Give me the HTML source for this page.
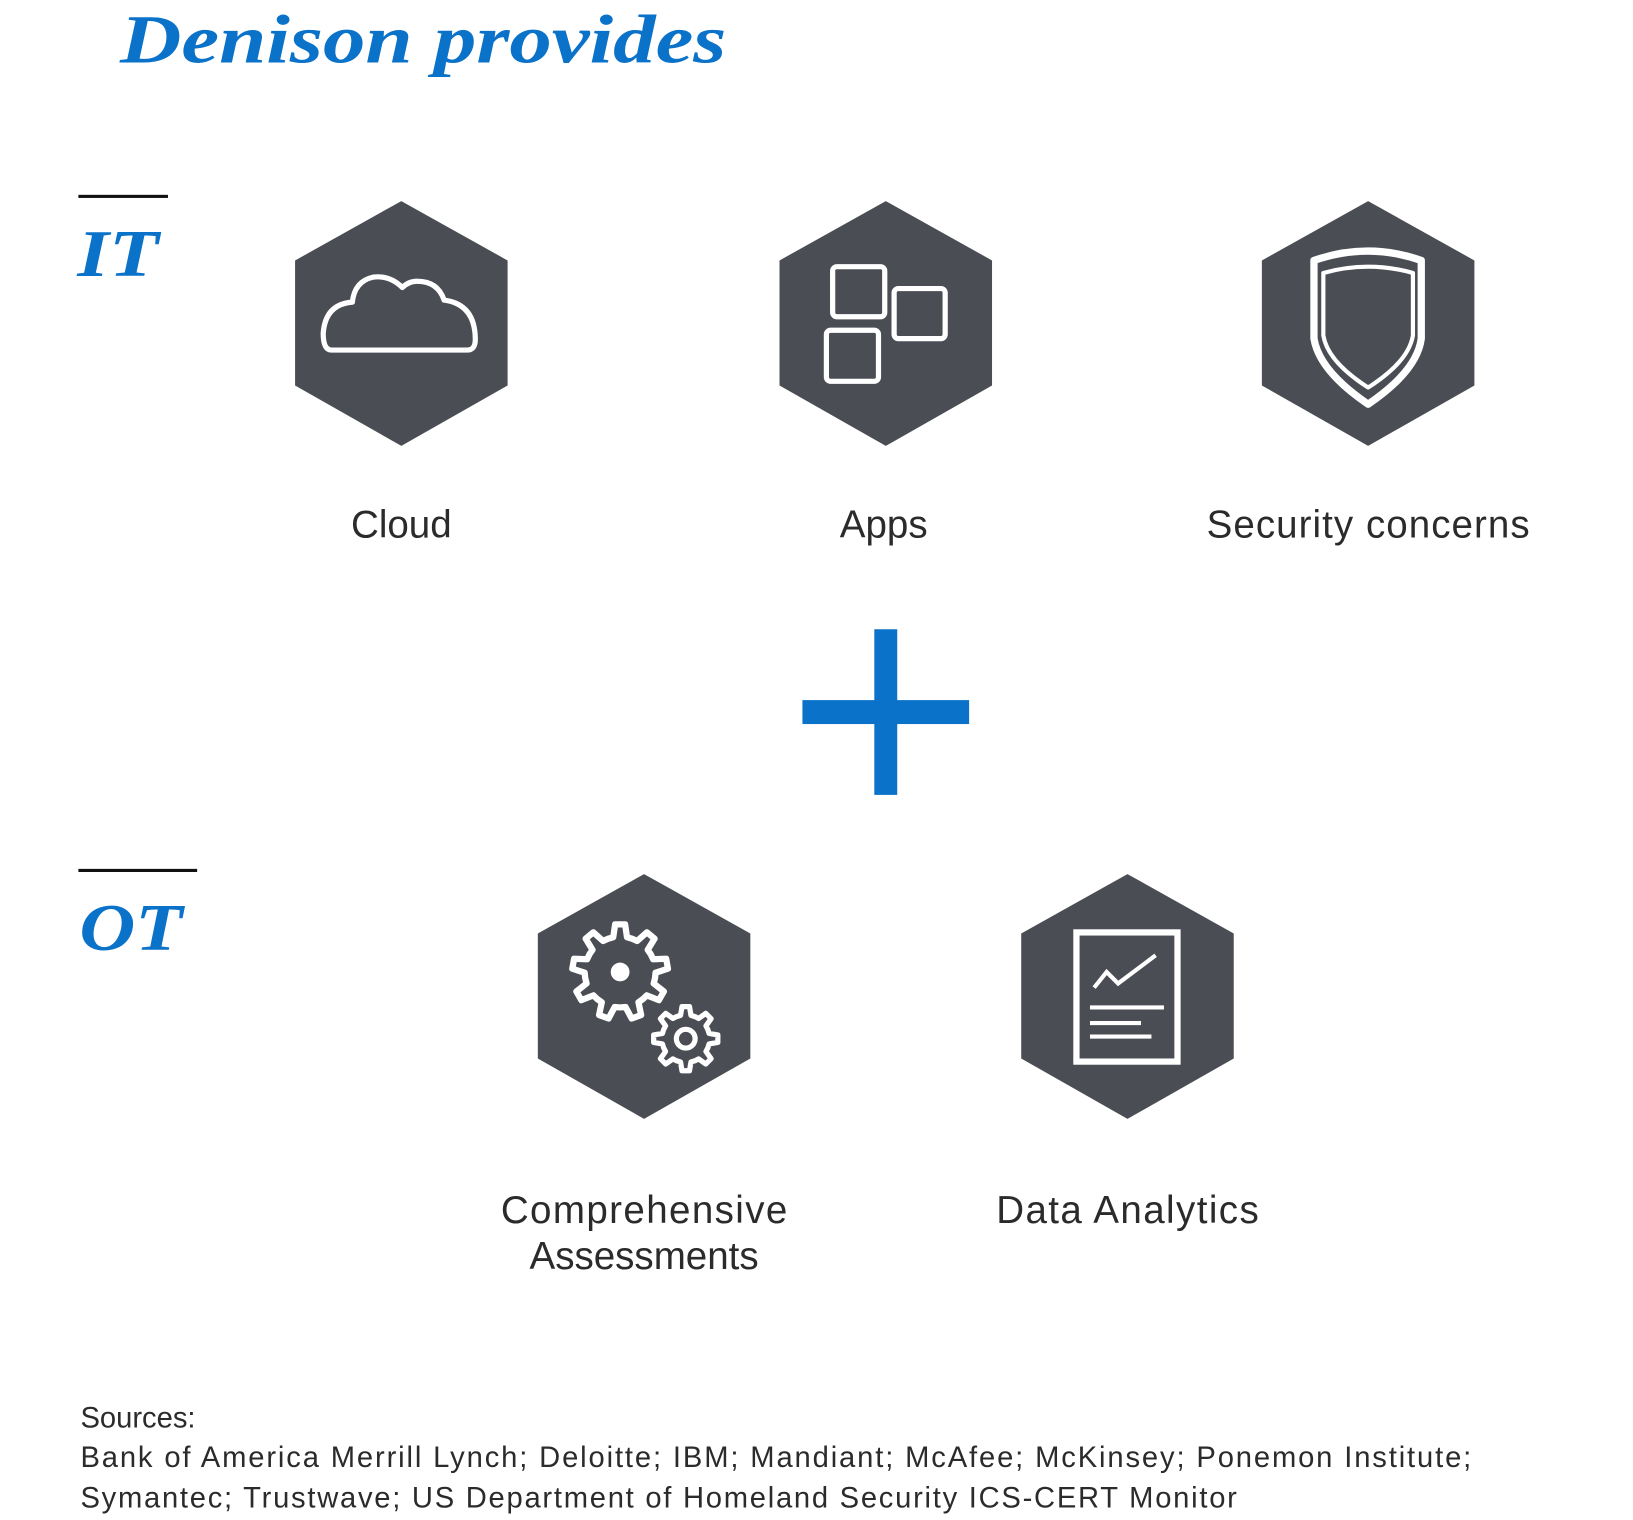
<!DOCTYPE html>
<html><head><meta charset="utf-8"><style>
html,body{margin:0;padding:0;background:#fff;}
svg{display:block}
.lbl{font-family:"Liberation Sans",sans-serif;font-size:37px;fill:#2b2b2b;text-anchor:middle}
.src{font-family:"Liberation Sans",sans-serif;font-size:28px;fill:#2b2b2b}
.hd{font-family:"Liberation Serif",serif;font-weight:bold;font-style:italic;fill:#0a72c8}
</style></head><body>
<svg width="1633" height="1520" viewBox="0 0 1567 1459" xmlns="http://www.w3.org/2000/svg">
<defs>
<polygon id="hex" points="0,0 102,57 102,177 0,235 -102,177 -102,57" fill="#4a4e54"/>
</defs>
<text class="hd" x="115" y="60" font-size="66" textLength="582" lengthAdjust="spacingAndGlyphs">Denison provides</text>
<rect x="75" y="187" width="86" height="3" fill="#111"/>
<text class="hd" x="74" y="265" font-size="64" textLength="78" lengthAdjust="spacingAndGlyphs">IT</text>
<rect x="75" y="834" width="114" height="3" fill="#111"/>
<text class="hd" x="76" y="912" font-size="64" textLength="99" lengthAdjust="spacingAndGlyphs">OT</text>

<use href="#hex" x="385" y="193"/>
<use href="#hex" x="850" y="193"/>
<use href="#hex" x="1313" y="193"/>
<use href="#hex" x="618" y="839"/>
<use href="#hex" x="1082" y="839"/>

<g fill="none" stroke="#fff" stroke-width="5" stroke-linejoin="round" stroke-linecap="round">
<path d="M318,336 L448,336 Q456,336 456,326 Q456,292 426,288 Q420,270 400,270 Q392,270 386,276 Q374,264 358,266 Q340,270 338,290 Q312,292 310,320 Q310,336 318,336 Z"/>
<rect x="799" y="256" width="50" height="48" rx="4"/>
<rect x="858" y="277" width="49" height="48" rx="4"/>
<rect x="793" y="317" width="50" height="49" rx="4"/>
</g>
<g fill="none" stroke="#fff" stroke-linejoin="round">
<path d="M1261,250 Q1313,232 1364,250 L1364,325 Q1360,356 1313,388 Q1266,356 1261,325 Z" stroke-width="7"/>
<path d="M1270,262 Q1313,250 1356,262 L1356,322 Q1352,347 1313,372 Q1274,347 1270,322 Z" stroke-width="4"/>
</g>

<path id="g1" fill="none" stroke="#fff" stroke-width="6" stroke-linejoin="round"/>
<circle cx="595" cy="933" r="9" fill="#fff"/>
<path id="g2" fill="none" stroke="#fff" stroke-width="5" stroke-linejoin="round"/>
<circle cx="658" cy="997" r="9" fill="none" stroke="#fff" stroke-width="5"/>

<g fill="none" stroke="#fff">
<rect x="1033" y="895" width="97" height="124" stroke-width="6"/>
<polyline points="1050,948 1062,933 1073,944 1109,917" stroke-width="4"/>
<line x1="1046" y1="967" x2="1117" y2="967" stroke-width="4"/>
<line x1="1046" y1="982" x2="1095" y2="982" stroke-width="4"/>
<line x1="1046" y1="995" x2="1105" y2="995" stroke-width="4"/>
</g>

<rect x="839" y="604" width="22" height="159" fill="#0a72c8"/>
<rect x="770" y="672" width="160" height="23" fill="#0a72c8"/>

<text class="lbl" x="385" y="516">Cloud</text>
<text class="lbl" x="848" y="516">Apps</text>
<text class="lbl" x="1313" y="516" textLength="310">Security concerns</text>
<text class="lbl" x="618" y="1174" textLength="275">Comprehensive</text>
<text class="lbl" x="618" y="1218">Assessments</text>
<text class="lbl" x="1082" y="1174" textLength="252">Data Analytics</text>

<text class="src" x="77" y="1370">Sources:</text>
<text class="src" x="77" y="1408" textLength="1335">Bank of America Merrill Lynch; Deloitte; IBM; Mandiant; McAfee; McKinsey; Ponemon Institute;</text>
<text class="src" x="77" y="1447" textLength="1110">Symantec; Trustwave; US Department of Homeland Security ICS-CERT Monitor</text>
</svg>
<script>
function gear(cx,cy,ro,ri,n){var d="",s=Math.PI*2/n;for(var i=0;i<n;i++){var a=i*s-Math.PI/2;var pts=[[ri,a-s*0.5],[ri,a-s*0.28],[ro,a-s*0.15],[ro,a+s*0.15],[ri,a+s*0.28]];pts.forEach(function(p,j){var x=cx+p[0]*Math.cos(p[1]),y=cy+p[0]*Math.sin(p[1]);d+=(i==0&&j==0?"M":"L")+x.toFixed(1)+","+y.toFixed(1)});}return d+"Z";}
document.getElementById("g1").setAttribute("d",gear(595,933,46,34,9));
document.getElementById("g2").setAttribute("d",gear(658,997,31,23,8));
</script>
</body></html>
